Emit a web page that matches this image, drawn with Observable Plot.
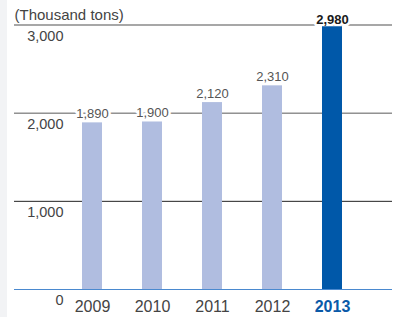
<!DOCTYPE html>
<html>
<head>
<meta charset="utf-8">
<script src="https://cdn.jsdelivr.net/npm/d3@7"></script>
<script src="https://cdn.jsdelivr.net/npm/@observablehq/plot@0.6"></script>
<style>
  html, body { margin: 0; padding: 0; }
  body { background: linear-gradient(to right, #f2f3f5 0, #f2f3f5 7px, #ffffff 7px); width: 399px; height: 317px; overflow: hidden; }
</style>
</head>
<body>
<div id="chart"></div>
<script>
const years = ["2009", "2010", "2011", "2012", "2013"];
const values = [1890, 1900, 2120, 2310, 2980];
const valueLabels = ["1,890", "1,900", "2,120", "2,310", "2,980"];
const yTicks = [0, 1000, 2000, 3000];
const yTickLabels = ["0", "1,000", "2,000", "3,000"];
const highlightYear = "2013";
const unitTitle = "(Thousand tons)";

const data = years.map((year, i) => ({year, value: values[i], label: valueLabels[i]}));
const ticks = yTicks.map((v, i) => ({v, label: yTickLabels[i]}));
const isHi = d => d.year === highlightYear;
const notHi = d => d.year !== highlightYear;
const gridStroke = v => v === 3000 ? "#8a8a8a" : v === 2000 ? "#5a5a5a" : "#222222";
const gridWidth = v => v === 3000 ? 1.6 : 1;
const font = "'Liberation Sans', Arial, Helvetica, sans-serif";

const chart = Plot.plot({
  width: 399,
  height: 317,
  marginTop: 24.5,
  marginBottom: 28,
  marginLeft: 14,
  marginRight: 7,
  style: {background: "transparent", fontFamily: font},
  x: {type: "band", domain: years, range: [60.75, 363.25], paddingInner: 0.67, paddingOuter: 0.335, axis: null},
  y: {domain: [0, 3000], axis: null},
  marks: [
    ...yTicks.filter(v => v > 0).map(v =>
      Plot.ruleY([v], {stroke: gridStroke(v), strokeWidth: gridWidth(v)})
    ),
    Plot.text(data, {
      filter: notHi,
      x: "year", y: "value", text: "label", dy: -9, lineAnchor: "middle",
      fontSize: 13, fill: "#555", stroke: "white", strokeWidth: 5
    }),
    Plot.text(data, {
      filter: isHi,
      x: "year", y: "value", text: "label", dy: -7, lineAnchor: "middle",
      fontSize: 13, fontWeight: "bold", fill: "#1a1a1a", stroke: "white", strokeWidth: 5
    }),
    Plot.barY(data, {
      x: "year", y: "value",
      fill: d => isHi(d) ? "#0058a9" : "#b0bde0"
    }),
    Plot.ruleY([0], {stroke: "#4a89cf", strokeWidth: 1.2}),
    Plot.text(ticks, {
      y: "v", text: "label", frameAnchor: "left", dx: 49, dy: 11,
      textAnchor: "end", lineAnchor: "middle", fontSize: 14.5, fill: "#444"
    }),
    Plot.text(data, {
      filter: notHi,
      x: "year", text: "year", frameAnchor: "bottom", dy: 17, lineAnchor: "middle",
      fontSize: 16, fill: "#444"
    }),
    Plot.text(data, {
      filter: isHi,
      x: "year", text: "year", frameAnchor: "bottom", dy: 17, lineAnchor: "middle",
      fontSize: 16, fontWeight: "bold", fill: "#0a5aa8"
    }),
    Plot.text([unitTitle], {
      frameAnchor: "top-left", dy: -10, textAnchor: "start", lineAnchor: "middle",
      fontSize: 15, fill: "#444"
    })
  ]
});
document.getElementById("chart").appendChild(chart);
</script>
</body>
</html>
